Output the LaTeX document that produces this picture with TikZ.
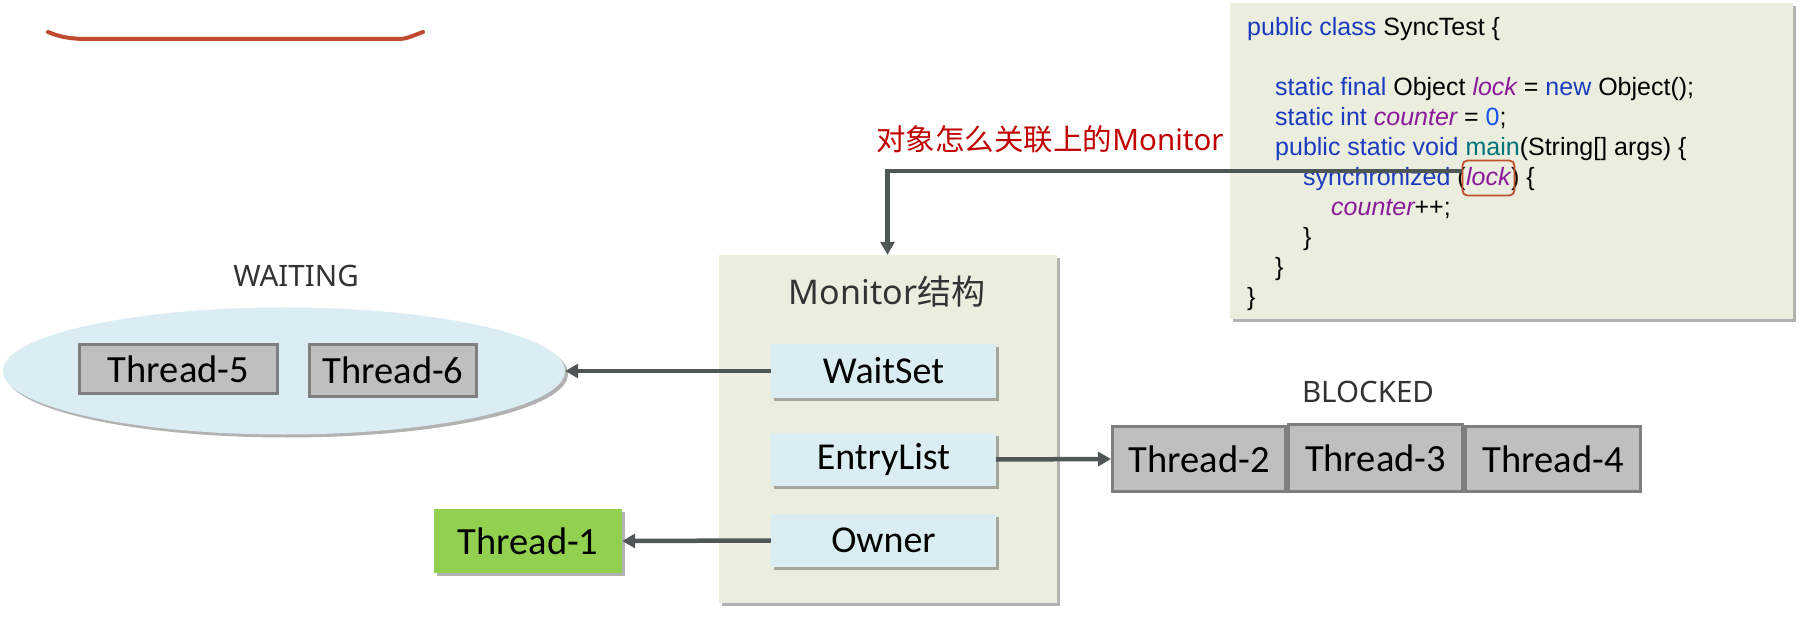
\documentclass[tikz,border=0pt]{standalone}
\usepackage{fontspec}
\setmainfont{Carlito}
\newfontfamily\cjk{Noto Sans CJK SC}
\newfontfamily\noto{Noto Sans}
\newfontfamily\codefont{Liberation Sans}
\usetikzlibrary{shapes.geometric,shadows,arrows.meta}
\definecolor{codebg}{HTML}{EBEEDF}
\definecolor{lblue}{HTML}{DAEDF2}
\definecolor{tgray}{HTML}{BFBFBF}
\definecolor{tborder}{HTML}{7F7F7F}
\definecolor{tgreen}{HTML}{92D050}
\definecolor{connc}{HTML}{4F5656}
\definecolor{redtxt}{HTML}{C00000}
\definecolor{lockc}{HTML}{C0502A}
\definecolor{curvec}{HTML}{BE4B2D}
\definecolor{kw}{HTML}{1B3BBF}
\definecolor{ident}{HTML}{8B1A9B}
\definecolor{num}{HTML}{1750EB}
\definecolor{mthd}{HTML}{00727A}
\definecolor{txtdark}{HTML}{333333}
\tikzset{
  shadowed/.style={drop shadow={shadow xshift=3pt, shadow yshift=-3pt, opacity=0.3, fill=black}},
  field/.style={fill=lblue, minimum width=225pt, minimum height=53pt, inner sep=0pt, shadowed, font=\fontsize{38}{40}\selectfont},
  thr/.style={fill=tgray, draw=tborder, line width=3pt, inner sep=0pt, font=\fontsize{38.5}{40}\selectfont},
  conn/.style={draw=connc, line width=4.5pt, -{Triangle[width=14pt,length=13pt]}},
  statelabel/.style={font=\noto\fontsize{29.5}{32}\selectfont, text=txtdark, anchor=base, inner sep=0pt},
  codeline/.style={anchor=base west, inner sep=0pt, font=\codefont\fontsize{25}{30}\selectfont},
}
\begin{document}
\begin{tikzpicture}[x=1pt,y=-1pt]
\useasboundingbox (0,0) rectangle (1801,617);
\fill[white] (0,0) rectangle (1801,617);

% top red stroke
\draw[curvec, line width=4pt, line cap=round] (48,32) .. controls (58,36) and (64,38) .. (82,39) -- (400,39) .. controls (406,39) and (412,36) .. (423,32);

% code box
\node[fill=codebg, minimum width=563pt, minimum height=316pt, inner sep=0pt, shadowed] (code) at (1511.5,161) {};
\node[codeline] (c1) at (1247,36) {\textcolor{kw}{public class} SyncTest \{};
\node[codeline] (c3) at (1275,96) {\textcolor{kw}{static final} Object \textcolor{ident}{\itshape lock} = \textcolor{kw}{new} Object();};
\node[codeline] (c4) at (1275,126) {\textcolor{kw}{static int} \textcolor{ident}{\itshape counter} = \textcolor{num}{0};};
\node[codeline] (c5) at (1275,156) {\textcolor{kw}{public static void} \textcolor{mthd}{main}(String[] args) \{};
\node[codeline] (c6a) at (1303,186) {\textcolor{kw}{synchronized} (};
\node[codeline] (lk) at (c6a.base east) {\textcolor{ident}{\itshape lock}};
\node[codeline] (c6b) at (lk.base east) {) \{};
\node[codeline] (c7) at (1331,216) {\textcolor{ident}{\itshape counter}++;};
\node[codeline] (c8) at (1303,246) {\}};
\node[codeline] (c9) at (1275,276) {\}};
\node[codeline] (c10) at (1247,306) {\}};
\node[draw=lockc, line width=1.8pt, rounded corners=5pt, minimum width=52pt, minimum height=35pt, inner sep=0pt] (lockbox) at ([yshift=8pt]lk.base) {};

% question label
\node[font=\cjk\fontsize{29.5}{31}\selectfont, text=redtxt, anchor=base, inner sep=0pt] (q) at (1050,151) {对象怎么关联上的{\noto Monitor}};

% monitor
\node[fill=codebg, minimum width=338pt, minimum height=348pt, inner sep=0pt, shadowed] (monitor) at (887.5,429) {};
\node[font=\noto\fontsize{34}{36}\selectfont, text=txtdark, anchor=base, inner sep=0pt] (mtitle) at (887,305) {Monitor{\cjk 结构}};
\node[field] (waitset) at (883.5,371) {WaitSet};
\node[field] (entry) at (883.5,459.5) {EntryList};
\node[field] (owner) at (883.5,540.5) {Owner};

% waiting
\node[statelabel] (wlabel) at (296,287) {WAITING};
\node[ellipse, fill=lblue, minimum width=562pt, minimum height=127pt, inner sep=0pt, shadowed] (waitell) at (284,371) {};
\node[thr, minimum width=198pt, minimum height=49pt] (t5) at (178.5,369) {Thread-5};
\node[thr, minimum width=167pt, minimum height=52pt] (t6) at (393,370.5) {Thread-6};

% blocked
\node[statelabel] (blabel) at (1368,402) {BLOCKED};
\node[thr, minimum width=173pt, minimum height=65pt] (t2) at (1199,459) {Thread-2};
\node[thr, minimum width=174pt, minimum height=67pt] (t3) at (1375.5,458) {Thread-3};
\node[thr, minimum width=175pt, minimum height=65pt] (t4) at (1553,459) {Thread-4};

% owner thread
\node[fill=tgreen, minimum width=188pt, minimum height=64pt, inner sep=0pt, shadowed, font=\fontsize{38.5}{40}\selectfont] (t1) at (528,541) {Thread-1};

% connectors
\draw[conn] ([yshift=7pt]lockbox.west) -| (monitor.north);
\draw[conn] (waitset.west) -- (waitell.east);
\draw[conn] (entry.east) -- (t2.west);
\draw[conn] (owner.west) -- (t1.east);
\end{tikzpicture}
\end{document}
